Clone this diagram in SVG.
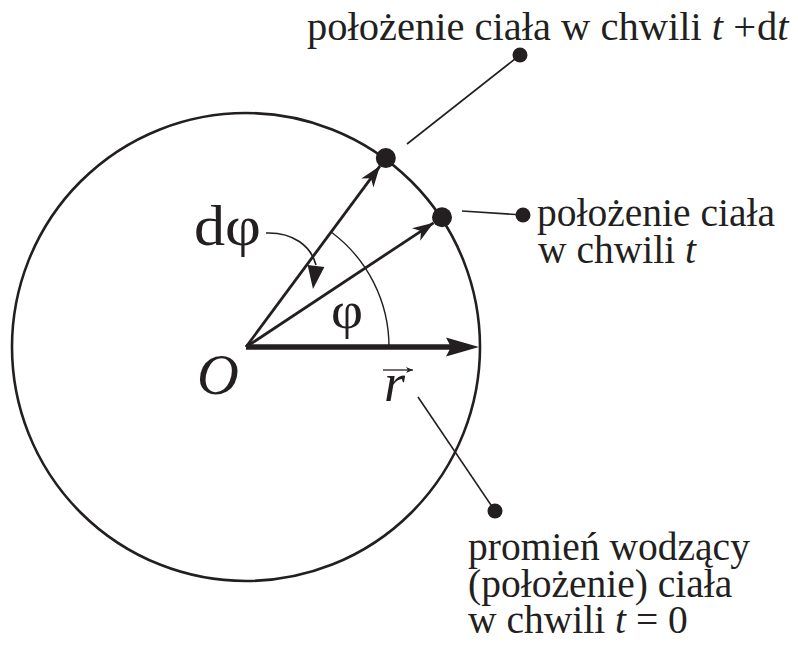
<svg xmlns="http://www.w3.org/2000/svg" width="798" height="645" viewBox="0 0 798 645">
<defs>
<style>
.txt{font-family:"Liberation Serif","Times New Roman",serif;fill:#231f20}
.it{font-style:italic}
.ln{stroke:#231f20;fill:none}
.dot{fill:#231f20}
</style>
<marker id="barb" markerUnits="userSpaceOnUse" markerWidth="30" markerHeight="20" viewBox="-22 -10 24 20" refX="0" refY="0" orient="auto">
<path d="M0,0 L-21,-7.5 L-15,0 L-21,7.5 Z" fill="#231f20"/>
</marker>
<marker id="small" markerUnits="userSpaceOnUse" markerWidth="12" markerHeight="8" viewBox="-8 -4 9 8" refX="0" refY="0" orient="auto">
<path d="M0,0 L-7,-3 L-5,0 L-7,3 Z" fill="#231f20"/>
</marker>
<clipPath id="clipR"><rect x="0" y="0" width="752" height="645"/></clipPath>
</defs>
<rect width="798" height="645" fill="#ffffff"/>

<g id="circle">
<circle class="ln" cx="246" cy="347" r="234" stroke-width="2.6"/>
</g>

<g id="connectors">
<line class="ln" x1="246" y1="347" x2="379.9" y2="166.1" stroke-width="2.8" marker-end="url(#barb)"/>
<line class="ln" x1="246" y1="347" x2="433.6" y2="222.8" stroke-width="2.8" marker-end="url(#barb)"/>
<line class="ln" x1="246" y1="347" x2="452" y2="347" stroke-width="5.5"/>
<path d="M479,347 L446,337.5 L451,347 L446,356.5 Z" fill="#231f20"/>
<path class="ln" d="M331.1,232 A143,143 0 0 1 389,347" stroke-width="1.4"/>
<path class="ln" d="M266,233 C293,232 311,246 316,265" stroke-width="1.6"/>
<path d="M313,289 L324.4,267.1 L307.6,264.9 Z" fill="#231f20"/>
<line class="ln" x1="407" y1="144" x2="520" y2="55" stroke-width="1.6"/>
<line class="ln" x1="462" y1="211" x2="523" y2="215" stroke-width="1.6"/>
<line class="ln" x1="418" y1="397" x2="495" y2="511" stroke-width="1.6"/>
<line class="ln" x1="383" y1="370" x2="413" y2="370" stroke-width="1.3" marker-end="url(#small)"/>
</g>

<g id="point-t-dt">
<circle class="dot" cx="385.8" cy="158.1" r="10"/>
<circle class="dot" cx="520" cy="55" r="7.5"/>
<text class="txt" x="307" y="40" font-size="40.5">położenie ciała w chwili <tspan class="it">t</tspan> +<tspan dx="1">d</tspan><tspan class="it">t</tspan></text>
</g>

<g id="point-t">
<circle class="dot" cx="442" cy="217.3" r="10"/>
<circle class="dot" cx="523" cy="215" r="7.5"/>
<text class="txt" x="537" y="226" font-size="39.5">położenie ciała</text>
<text class="txt" x="538" y="263" font-size="39.5">w chwili <tspan class="it">t</tspan></text>
</g>

<g id="radius-vector">
<circle class="dot" cx="495" cy="511" r="7.5"/>
<g clip-path="url(#clipR)">
<text class="txt" x="468" y="560" font-size="39.5">promień wodzący</text>
</g>
<text class="txt" x="468" y="597" font-size="39.5">(położenie) ciała</text>
<text class="txt" x="468" y="633" font-size="39.5">w chwili <tspan class="it">t</tspan> = 0</text>
</g>

<g id="labels">
<text class="txt" x="194" y="245" font-size="58" textLength="67" lengthAdjust="spacingAndGlyphs">dφ</text>
<text class="txt" x="331" y="328" font-size="52" textLength="32" lengthAdjust="spacingAndGlyphs">φ</text>
<text class="txt it" x="197" y="394" font-size="58">O</text>
<text class="txt it" x="384" y="401" font-size="54">r</text>
</g>
</svg>
